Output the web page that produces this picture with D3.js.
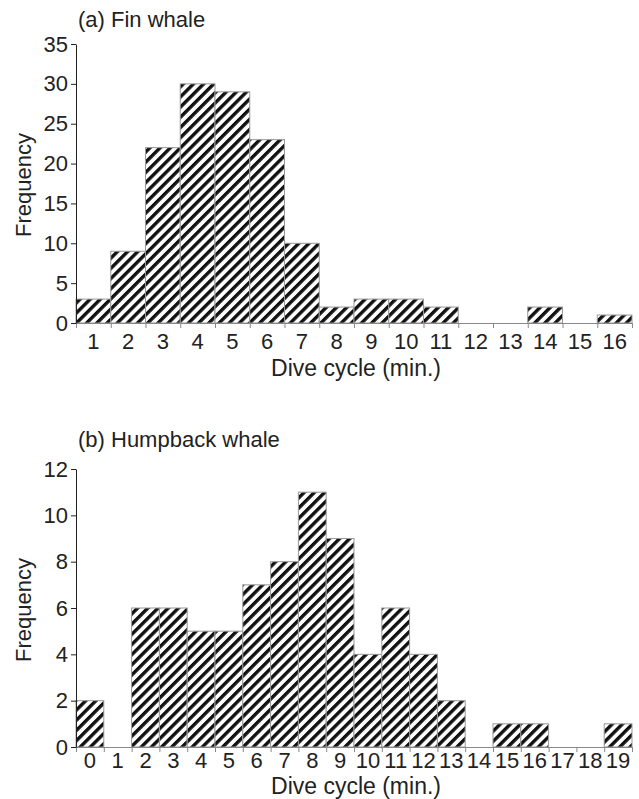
<!DOCTYPE html>
<html lang="en">
  <head>
    <meta charset="utf-8" />
    <title>Dive cycles</title>
    <script type="text/javascript" src="https://d3js.org/d3.v7.min.js"></script>
    <style>
      body { margin: 0; background: #fff; }
      text { font-family: "Liberation Sans", Arial, sans-serif; fill: #222; }
    </style>
  </head>
  <body>
    <script type="text/javascript">
      const WIDTH = 639;
      const HEIGHT = 799;
      const FONT = 22;

      // Fin whale
      const finCycles = ["1","2","3","4","5","6","7","8","9","10","11","12","13","14","15","16"];
      const finCounts = [3, 9, 22, 30, 29, 23, 10, 2, 3, 3, 2, 0, 0, 2, 0, 1];
      const finTicks = [0, 5, 10, 15, 20, 25, 30, 35];

      // Humpback whale
      const humpCycles = ["0","1","2","3","4","5","6","7","8","9","10","11","12","13","14","15","16","17","18","19"];
      const humpCounts = [2, 0, 6, 6, 5, 5, 7, 8, 11, 9, 4, 6, 4, 2, 0, 1, 1, 0, 0, 1];
      const humpTicks = [0, 2, 4, 6, 8, 10, 12];

      var svg = d3.select("body").append("svg")
        .attr("width", WIDTH)
        .attr("height", HEIGHT);

      // Diagonal hatching, like the old spreadsheet fill
      const HATCH = 7.2;
      var pat = svg.append("defs").append("pattern")
        .attr("id", "hatch")
        .attr("patternUnits", "userSpaceOnUse")
        .attr("width", HATCH)
        .attr("height", HATCH)
        .attr("patternTransform", "rotate(45)");
      pat.append("rect").attr("width", HATCH).attr("height", HATCH).attr("fill", "#fff");
      pat.append("rect").attr("width", 3.4).attr("height", HATCH).attr("fill", "#111");

      function histogram(cfg) {
        var g = svg.append("g");

        var bins = cfg.cats.map(function (c, i) {
          return { cat: c, n: cfg.counts[i] };
        });

        var x = d3.scaleBand()
          .domain(cfg.cats)
          .range([cfg.left, cfg.right])
          .padding(0);

        // bin edges for the little tick marks
        var edges = d3.scaleLinear()
          .domain([0, cfg.cats.length])
          .range([cfg.left, cfg.right]);

        var y = d3.scaleLinear()
          .domain([0, cfg.yMax])
          .range([cfg.bottom, cfg.top]);

        g.selectAll("rect.bar")
          .data(bins.filter(function (d) { return d.n > 0; }))
          .enter()
          .append("rect")
          .attr("class", "bar")
          .attr("x", function (d) { return x(d.cat); })
          .attr("y", function (d) { return y(d.n); })
          .attr("width", x.bandwidth())
          .attr("height", function (d) { return cfg.bottom - y(d.n); })
          .attr("fill", "url(#hatch)")
          .attr("stroke", "#999")
          .attr("stroke-width", 1);

        // x: boundary ticks
        var xEdge = g.append("g")
          .attr("transform", "translate(0," + cfg.bottom + ")")
          .call(d3.axisBottom(edges).tickValues(d3.range(cfg.cats.length + 1)).tickSize(5).tickFormat(""));
        xEdge.select(".domain").attr("stroke", "#888");
        xEdge.selectAll(".tick line").attr("stroke", "#888");

        // x: labels centered under bins
        var xLab = g.append("g")
          .attr("transform", "translate(0," + cfg.bottom + ")")
          .call(d3.axisBottom(x).tickSize(0).tickPadding(cfg.labPad));
        xLab.select(".domain").remove();
        xLab.selectAll("text").style("font-size", FONT + "px").attr("fill", "#222");

        var yAx = g.append("g")
          .attr("transform", "translate(" + cfg.left + ",0)")
          .call(d3.axisLeft(y).tickValues(cfg.ticks).tickSize(5).tickPadding(3).tickSizeOuter(0));
        yAx.select(".domain").attr("stroke", "#222");
        yAx.selectAll(".tick line").attr("stroke", "#222");
        yAx.selectAll("text").style("font-size", FONT + "px").attr("fill", "#222");

        g.append("text")
          .attr("x", cfg.left + 2)
          .attr("y", cfg.titleY)
          .style("font-size", FONT + "px")
          .text(cfg.title);

        g.append("text")
          .attr("transform", "translate(" + 31 + "," + cfg.yLabY + ") rotate(-90)")
          .attr("text-anchor", "middle")
          .style("font-size", FONT + "px")
          .text("Frequency");

        g.append("text")
          .attr("x", 356)
          .attr("y", cfg.xLabY)
          .attr("text-anchor", "middle")
          .style("font-size", (FONT + 1) + "px")
          .text("Dive cycle (min.)");
      }

      histogram({
        cats: finCycles, counts: finCounts, ticks: finTicks, yMax: 35,
        left: 76, right: 632, top: 44, bottom: 323,
        labPad: 10, title: "(a) Fin whale", titleY: 27, yLabY: 185, xLabY: 376
      });

      histogram({
        cats: humpCycles, counts: humpCounts, ticks: humpTicks, yMax: 12,
        left: 76, right: 632, top: 469, bottom: 747,
        labPad: 5, title: "(b) Humpback whale", titleY: 447, yLabY: 610, xLabY: 794
      });
    </script>
  </body>
</html>
